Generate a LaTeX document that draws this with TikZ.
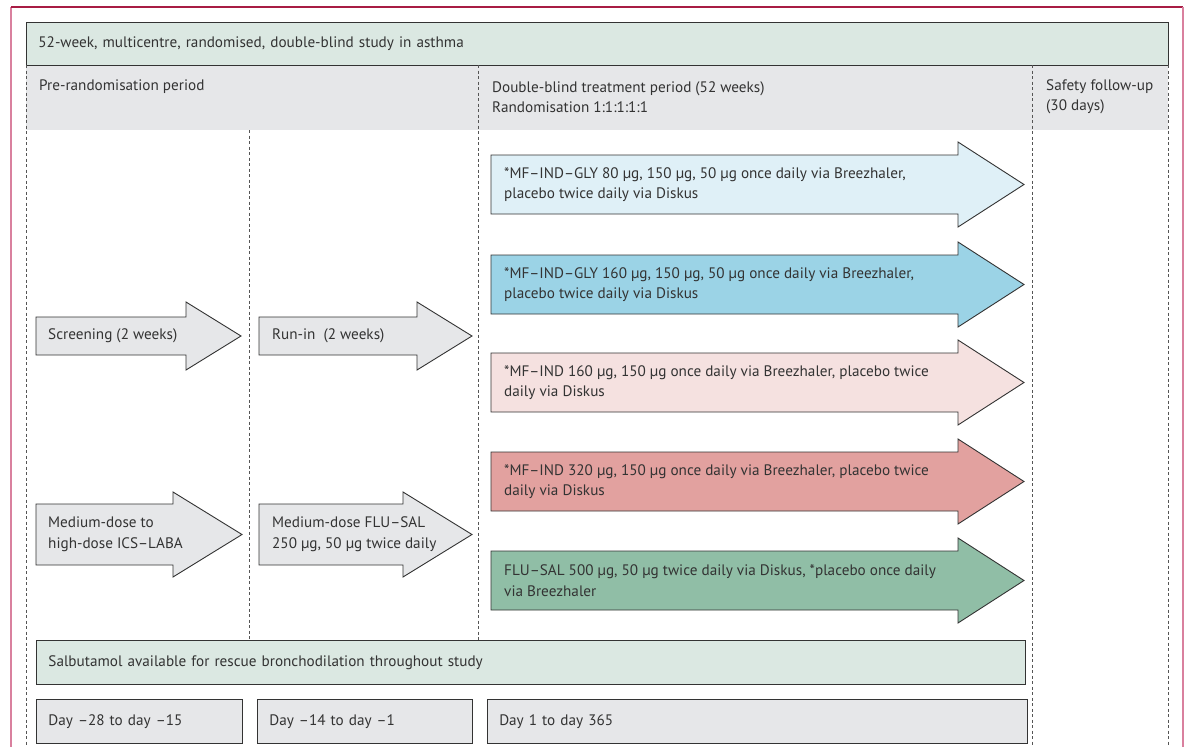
\documentclass[tikz,border=0pt]{standalone}
\usepackage{fontspec}
\setmainfont{PT Sans}
\usetikzlibrary{positioning}

\definecolor{txtc}{HTML}{333333}
\definecolor{linec}{HTML}{333333}
\definecolor{dashc}{HTML}{555555}
\definecolor{framepink}{HTML}{D9809E}
\definecolor{framered}{HTML}{A81C44}
\definecolor{bandgreen}{HTML}{DBE8E2}
\definecolor{bandgray}{HTML}{E6E7E9}
\definecolor{blueA}{HTML}{DFF0F7}
\definecolor{blueB}{HTML}{9BD3E6}
\definecolor{pinkA}{HTML}{F5E1E0}
\definecolor{pinkB}{HTML}{E2A19F}
\definecolor{greenB}{HTML}{90BEA6}

% fill, tail x, top, bottom, head x, tip x, head extend
\newcommand{\arrowbox}[7]{%
  \draw[arw, fill=#1] (#2,#3) -- (#5,#3) -- (#5,{#3-#7}) -- (#6,{(#3+#4)/2})
    -- (#5,{#4+#7}) -- (#5,#4) -- (#2,#4) -- cycle;}

\begin{document}
\begin{tikzpicture}[x=1pt, y=-1pt,
  every node/.style={font=\fontsize{15.2}{20.5}\selectfont, text=txtc},
  bar/.style={draw=linec, line width=0.9pt, anchor=north west, inner xsep=12pt, inner ysep=0pt, minimum height=44pt, align=left},
  lbl/.style={anchor=west, inner sep=0pt, align=left},
  arw/.style={draw=linec, line width=0.9pt},
  sep/.style={draw=dashc, line width=0.9pt, dash pattern=on 3pt off 2.5pt}
]
\useasboundingbox (0,0) rectangle (1184,747);

% frame
\draw[framepink, line width=1.4pt] (11,747) -- (11,7);
\draw[framered, line width=1.4pt] (11,7) -- (1183,7);
\draw[framepink, line width=1.4pt] (1183,7) -- (1183,747);

% header
\fill[bandgray] (26,65) rectangle (1168,130);
\node[bar, fill=bandgreen, minimum width=1142pt, text width=1118pt, minimum height=43pt] (title) at (26,22)
  {52-week, multicentre, randomised, double-blind study in asthma};
\node[lbl] (pre) at (39,87) {Pre-randomisation period};
\node[lbl] (dbl) at (492,97) {Double-blind treatment period (52 weeks)\\Randomisation 1:1:1:1:1};
\node[lbl] (safe) at (1046,97) {Safety follow-up\\(30 days)};

% period separators
\draw[sep] (26,65) -- (26,747);
\draw[sep] (249,130) -- (249,640);
\draw[sep] (478,65) -- (478,640);
\draw[sep] (1032,65) -- (1032,747);
\draw[sep] (1168,65) -- (1168,747);

% pre-randomisation arrows
\arrowbox{bandgray}{36}{317}{355}{186}{241}{15}
\node[lbl] (scr) at (48,336) {Screening (2 weeks)};
\arrowbox{bandgray}{259}{317}{355}{417}{472}{15}
\node[lbl] (run) at (272,336) {Run-in~ (2 weeks)};
\arrowbox{bandgray}{36}{504}{565}{173}{242}{12}
\node[lbl] (ics) at (48,534) {Medium-dose to\\high-dose ICS–LABA};
\arrowbox{bandgray}{259}{504}{565}{403}{472}{12}
\node[lbl] (fs) at (272,534) {Medium-dose FLU–SAL\\250 µg, 50 µg twice daily};

% treatment arms
\arrowbox{blueA}{491}{155}{214}{958}{1024}{13}
\node[lbl] (arm1) at (504,184.5) {*MF–IND–GLY 80 µg, 150 µg, 50 µg once daily via Breezhaler,\\placebo twice daily via Diskus};
\arrowbox{blueB}{491}{255}{314}{958}{1024}{13}
\node[lbl] (arm2) at (504,284.5) {*MF–IND–GLY 160 µg, 150 µg, 50 µg once daily via Breezhaler,\\placebo twice daily via Diskus};
\arrowbox{pinkA}{491}{353}{412}{958}{1024}{13}
\node[lbl] (arm3) at (504,382.5) {*MF–IND 160 µg, 150 µg once daily via Breezhaler, placebo twice\\daily via Diskus};
\arrowbox{pinkB}{491}{452}{511}{958}{1024}{13}
\node[lbl] (arm4) at (504,481.5) {*MF–IND 320 µg, 150 µg once daily via Breezhaler, placebo twice\\daily via Diskus};
\arrowbox{greenB}{491}{551}{610}{958}{1024}{13}
\node[lbl] (arm5) at (504,580.5) {FLU–SAL 500 µg, 50 µg twice daily via Diskus, *placebo once daily\\via Breezhaler};

% rescue medication and days
\node[bar, fill=bandgreen, text width=965pt] (salb) at (36,640)
  {Salbutamol available for rescue bronchodilation throughout study};
\node[bar, fill=bandgray, text width=182pt] (day1) at (36,699) {Day –28 to day –15};
\node[bar, fill=bandgray, text width=191pt, right=14pt of day1] (day2) {Day –14 to day –1};
\node[bar, fill=bandgray, text width=516pt, right=14pt of day2] (day3) {Day 1 to day 365};
\end{tikzpicture}
\end{document}
